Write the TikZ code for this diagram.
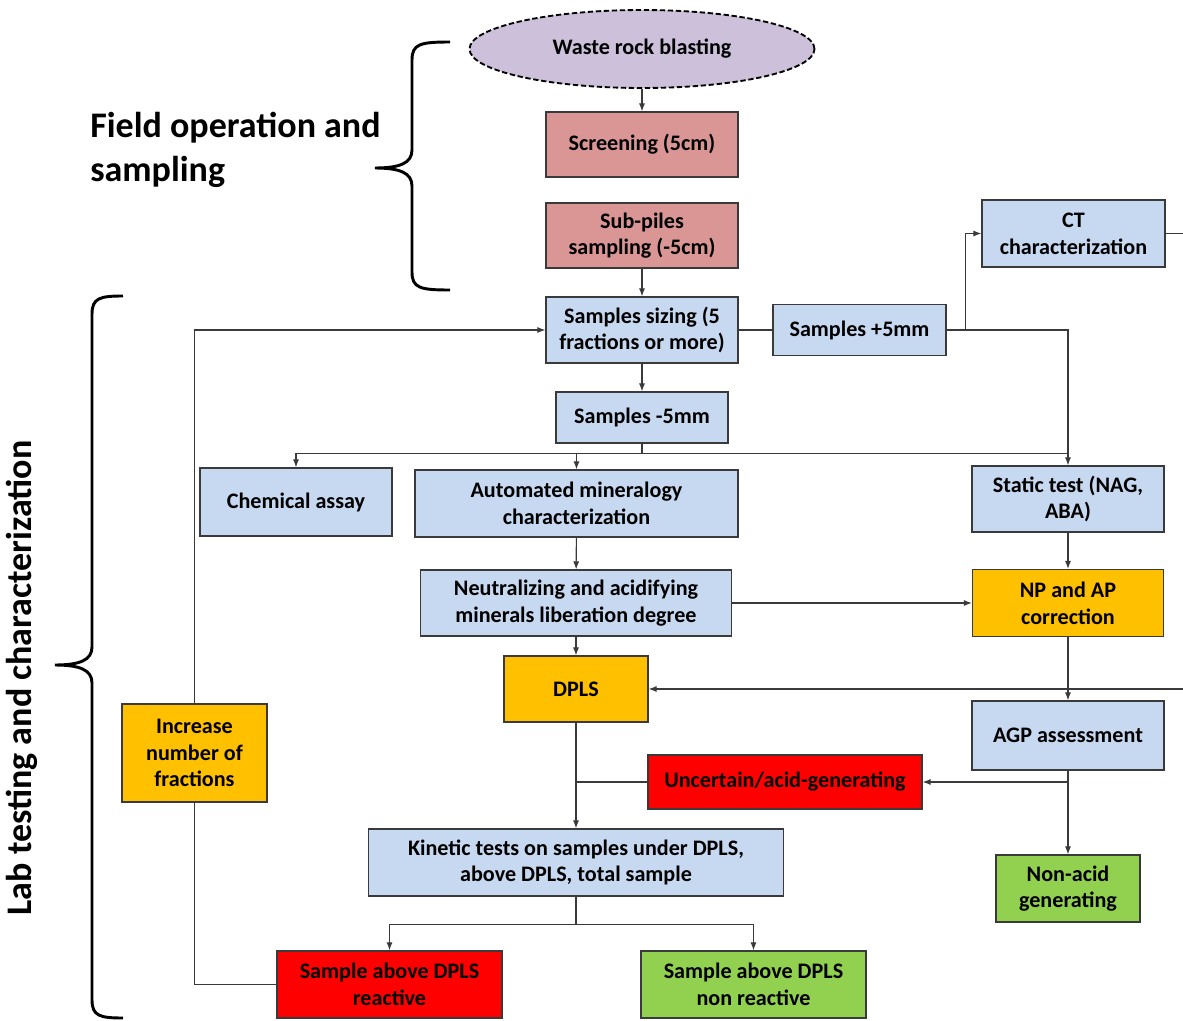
\documentclass[tikz,border=0pt]{standalone}
\usepackage{fontspec}
\setmainfont{Carlito}
\usetikzlibrary{shapes.geometric, arrows.meta, positioning, calc}
\definecolor{boxblue}{HTML}{C6D9F1}
\definecolor{boxpink}{HTML}{DA9694}
\definecolor{boxamber}{HTML}{FFC000}
\definecolor{boxred}{HTML}{FF0000}
\definecolor{boxgreen}{HTML}{92D050}
\definecolor{boxlilac}{HTML}{CCC0DA}
\definecolor{edgegray}{HTML}{3A3A3A}

\begin{document}
\begin{tikzpicture}[
    x=0.75pt, y=-0.75pt,
    box/.style={rectangle, draw=edgegray, line width=0.9pt, fill=boxblue,
        align=center, inner sep=2pt, text=black,
        font=\fontsize{16.6}{20}\selectfont\bfseries},
    pinkbox/.style={box, fill=boxpink},
    amberbox/.style={box, fill=boxamber},
    redbox/.style={box, fill=boxred},
    greenbox/.style={box, fill=boxgreen},
    blastnode/.style={ellipse, draw=black, line width=1.4pt, dashed,
        dash pattern=on 4pt off 2pt, fill=boxlilac, inner sep=0pt,
        font=\fontsize{16.6}{20}\selectfont\bfseries},
    arr/.style={-{Latex[length=6pt,width=4.5pt]}, line width=0.8pt, edgegray},
    link/.style={line width=0.8pt, edgegray},
    brace/.style={line width=2.2pt, black},
    heading/.style={font=\fontsize{27}{33}\selectfont\bfseries, align=left, inner sep=0pt}
]
\useasboundingbox (0,0) rectangle (1183,1021);

% field operation
\node[blastnode, minimum width=258.75pt, minimum height=58.5pt] (blast) at (642,49) {Waste rock blasting};
\node[pinkbox, minimum width=144pt, minimum height=48.75pt] (screen) at (642,144.5) {Screening (5cm)};
\node[pinkbox, minimum width=144pt, minimum height=48.75pt] (subpile) at (642,235.5) {Sub-piles\\sampling (-5cm)};

% lab testing
\node[box, minimum width=144pt, minimum height=49.5pt] (sizing) at (642,330) {Samples sizing (5\\fractions or more)};
\node[box, minimum width=129.75pt, minimum height=38.25pt] (plus5) at (859.5,330) {Samples +5mm};
\node[box, minimum width=137.25pt, minimum height=50.25pt] (ct) at (1073.5,233.5) {CT\\characterization};
\node[box, minimum width=129pt, minimum height=38.25pt] (minus5) at (642,417.5) {Samples -5mm};
\node[box, minimum width=144pt, minimum height=51pt] (chem) at (296,502) {Chemical assay};
\node[box, minimum width=242.25pt, minimum height=50.25pt] (auto) at (576.5,503.5) {Automated mineralogy\\characterization};
\node[box, minimum width=144pt, minimum height=49.5pt] (static) at (1068,499) {Static test (NAG,\\ABA)};
\node[box, minimum width=233.25pt, minimum height=49.5pt] (neutral) at (576,603) {Neutralizing and acidifying\\minerals liberation degree};
\node[amberbox, minimum width=143.25pt, minimum height=50.25pt] (npap) at (1068,603) {NP and AP\\correction};
\node[amberbox, minimum width=108pt, minimum height=49.5pt] (dpls) at (576,689) {DPLS};
\node[box, minimum width=144pt, minimum height=51.75pt] (agp) at (1068,735.5) {AGP assessment};
\node[redbox, minimum width=205.5pt, minimum height=40.5pt] (uncert) at (785,782) {Uncertain/acid-generating};
\node[amberbox, minimum width=108.75pt, minimum height=73.5pt] (increase) at (194.5,753) {Increase\\number of\\fractions};
\node[box, minimum width=311.25pt, minimum height=50.25pt] (kinetic) at (576,862.5) {Kinetic tests on samples under DPLS,\\above DPLS, total sample};
\node[greenbox, minimum width=108pt, minimum height=50.25pt] (nonacid) at (1068,888.5) {Non-acid\\generating};
\node[redbox, minimum width=168.75pt, minimum height=50.25pt] (reactive) at (389.5,984.5) {Sample above DPLS\\reactive};
\node[greenbox, minimum width=168.75pt, minimum height=50.25pt] (nonreact) at (753.5,984.5) {Sample above DPLS\\non reactive};

% headings and braces
\node[heading, anchor=west] (fieldlbl) at (90,150) {Field operation and\\sampling};
\node[heading, rotate=90] (lablbl) at (22,678) {Lab testing and characterization};
\draw[brace] (450,42) .. controls (420,42) and (412,44) .. (412,60) -- (412,150)
    .. controls (412,163) and (400,168) .. (375,168)
    .. controls (400,168) and (412,173) .. (412,186) -- (412,272)
    .. controls (412,288) and (420,290) .. (450,290);
\draw[brace] (123,296) .. controls (100,296) and (92,298) .. (92,314) -- (92,647)
    .. controls (92,660) and (80,665) .. (55,665)
    .. controls (80,665) and (92,670) .. (92,683) -- (92,1000)
    .. controls (92,1016) and (100,1018) .. (123,1018);

% connectors
\draw[arr] (blast) -- (screen);
\draw[arr] (subpile) -- (sizing);
\draw[link] (sizing) -- (plus5);
\draw[arr] (plus5.east) -- ++(19,0) |- (ct.west);
\draw[arr] (plus5.east) -| (static.north);
\draw[arr] (sizing) -- (minus5);
\draw[link] (minus5.south) -- ++(0,10) coordinate (bus);
\draw[arr] (bus) -| (chem.north);
\draw[arr] (bus) -| (auto.north);
\draw[link] (chem.north |- bus) -- (bus -| static.north);
\draw[arr] (auto) -- (neutral);
\draw[arr] (neutral.east) -- (npap.west |- neutral.east);
\draw[arr] (static) -- (npap);
\draw[arr] (neutral) -- (dpls);
\draw[arr] (npap) -- (agp);
\draw[arr] (ct.east) -- ++(19,0) |- (dpls.east);
\draw[arr] (agp.south) |- (uncert.east);
\draw[arr] (agp) -- (nonacid);
\draw[arr] (dpls) -- (kinetic);
\draw[link] (uncert.west) -- (uncert.west -| dpls.south);
\draw[link] (kinetic.south) -- ++(0,28) coordinate (kbus);
\draw[arr] (kbus) -| (reactive.north);
\draw[arr] (kbus) -| (nonreact.north);
\draw[link] (reactive.west) -| (increase.south);
\draw[arr] (increase.north) |- (sizing.west);
\end{tikzpicture}
\end{document}
